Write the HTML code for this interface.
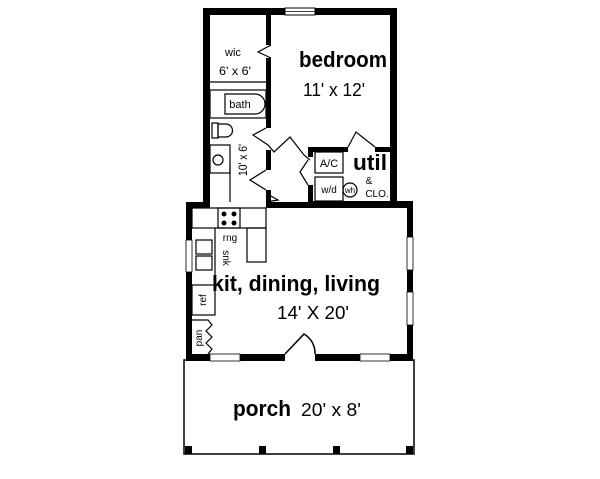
<!DOCTYPE html>
<html><head><style>body{margin:0;background:#fff}svg{display:block}</style></head><body>
<svg width="600" height="479" viewBox="0 0 600 479" xmlns="http://www.w3.org/2000/svg" font-family="Liberation Sans, sans-serif">
<rect width="600" height="479" fill="#fff"/>
<!-- porch -->
<rect x="184" y="360" width="230" height="94" fill="none" stroke="#000" stroke-width="1.5"/>
<rect x="185" y="446" width="7" height="8"/><rect x="259" y="446" width="7" height="8"/><rect x="333" y="446" width="7" height="8"/><rect x="406" y="446" width="7" height="8"/>
<!-- lower block walls -->
<g fill="#000">
<rect x="186" y="202" width="24" height="6"/><rect x="266" y="202" width="42" height="6"/><rect x="308" y="201" width="105" height="7"/>
<rect x="186" y="202" width="6" height="159"/><rect x="407" y="202" width="6" height="159"/>
<rect x="186" y="354" width="227" height="7"/>
<!-- upper walls -->
<rect x="203" y="8" width="7" height="200"/><rect x="203" y="8" width="194" height="7"/><rect x="390" y="8" width="7" height="200"/>
<rect x="266" y="15" width="5" height="30"/><rect x="266" y="58" width="5" height="70"/><rect x="266" y="150" width="5" height="20"/><rect x="266" y="190" width="5" height="18"/>
<rect x="308" y="147" width="40" height="5"/><rect x="375" y="147" width="20" height="5"/>
<rect x="308" y="147" width="5" height="10"/><rect x="308" y="185" width="5" height="20"/>
</g>
<!-- top window -->
<rect x="285" y="8" width="30" height="7" fill="#fff" stroke="#000"/><line x1="285" y1="11.5" x2="315" y2="11.5" stroke="#000" stroke-width=".7"/>
<!-- windows lower -->
<g fill="#fff" stroke="#000" stroke-width=".8">
<rect x="210" y="354" width="30" height="7"/><rect x="360" y="354" width="30" height="7"/>
<rect x="186" y="240" width="6" height="32"/><rect x="407" y="237" width="6" height="33"/><rect x="407" y="292" width="6" height="33"/>
</g>
<!-- door front -->
<rect x="285" y="353" width="30" height="9" fill="#fff"/>
<path d="M285 354 L304 334 A22 22 0 0 1 315 354" fill="none" stroke="#000" stroke-width="1.5"/>
<!-- interior thin lines -->
<g fill="none" stroke="#000" stroke-width="1.2">
<line x1="210" y1="82" x2="266" y2="82"/>
<rect x="210" y="90" width="56" height="28"/>
<path d="M225 94 h30 a10 10 0 0 1 0 20 h-30 z"/>
<path d="M271 45 L258 52 L271 58"/>
<path d="M266 128 L253 135 L268 145 L274 152 L290 137 L304 155 L310 160"/>
<path d="M266 170 L250 180 L266 190"/>
<path d="M348 147 L356 132 L375 147"/>
<path d="M308 160 L300 172 L308 185"/>
<line x1="230" y1="165" x2="230" y2="202"/>
<path d="M271 196 L278 200 L266 202"/>
<!-- toilet -->
<rect x="212" y="123" width="6" height="15"/><path d="M218 124 h8 a6 6 0 0 1 0 13 h-8 z"/>
<!-- sink -->
<rect x="210" y="145" width="20" height="28"/><circle cx="218" cy="160" r="5"/>
<!-- util -->
<rect x="315" y="152" width="28" height="21"/><rect x="315" y="177" width="28" height="24"/><circle cx="350" cy="190" r="7"/>
<!-- kitchen -->
<rect x="192" y="208" width="74" height="20"/><rect x="218" y="208" width="22" height="20"/>
<rect x="247" y="228" width="19" height="34"/>
<polyline points="215,228 215,285"/>
<rect x="196" y="240" width="16" height="14"/><rect x="196" y="256" width="16" height="14"/>
<rect x="192" y="285" width="23" height="30"/>
<path d="M192 320 h16 l4 5 l-6 6 l6 6 l-6 6 l6 6 l-4 5"/>
<path d="M266 208 L271 196"/>
</g>
<g fill="#000"><circle cx="224" cy="214" r="2.5"/><circle cx="234" cy="214" r="2.5"/><circle cx="224" cy="223" r="2.5"/><circle cx="234" cy="223" r="2.5"/></g>
<!-- text -->
<g fill="#000">
<text x="343" y="67" font-size="22" font-weight="bold" text-anchor="middle" textLength="88" lengthAdjust="spacingAndGlyphs">bedroom</text>
<text x="334" y="96" font-size="18" text-anchor="middle" textLength="62" lengthAdjust="spacingAndGlyphs">11' x 12'</text>
<text x="233" y="56" font-size="11" text-anchor="middle">wic</text>
<text x="235" y="75" font-size="12" text-anchor="middle" textLength="32" lengthAdjust="spacingAndGlyphs">6' x 6'</text>
<text x="240" y="108" font-size="11" text-anchor="middle">bath</text>
<text x="247" y="160" font-size="12" text-anchor="middle" transform="rotate(-90 247 160)" textLength="32" lengthAdjust="spacingAndGlyphs">10' x 6'</text>
<text x="329" y="167" font-size="11" text-anchor="middle">A/C</text>
<text x="329" y="193" font-size="10" text-anchor="middle">w/d</text>
<text x="350" y="193" font-size="8" text-anchor="middle">wh</text>
<text x="370" y="170" font-size="22" font-weight="bold" text-anchor="middle" textLength="34" lengthAdjust="spacingAndGlyphs">util</text>
<text x="369" y="184" font-size="10" text-anchor="middle">&amp;</text>
<text x="377" y="197" font-size="10" text-anchor="middle">CLO.</text>
<text x="230" y="241" font-size="10" text-anchor="middle">rng</text>
<text x="223" y="258" font-size="10" text-anchor="middle" transform="rotate(90 223 258)">snk</text>
<text x="206" y="300" font-size="10" text-anchor="middle" transform="rotate(-90 206 300)">ref</text>
<text x="202" y="338" font-size="10" text-anchor="middle" transform="rotate(-90 202 338)">pan</text>
<text x="296" y="291" font-size="22" font-weight="bold" text-anchor="middle" textLength="168" lengthAdjust="spacingAndGlyphs">kit, dining, living</text>
<text x="313" y="319" font-size="18" text-anchor="middle" textLength="72" lengthAdjust="spacingAndGlyphs">14' X 20'</text>
<text x="262" y="416" font-size="22" font-weight="bold" text-anchor="middle" textLength="58" lengthAdjust="spacingAndGlyphs">porch</text>
<text x="331" y="416" font-size="18" text-anchor="middle" textLength="60" lengthAdjust="spacingAndGlyphs">20' x 8'</text>
</g>
</svg>
</body></html>
